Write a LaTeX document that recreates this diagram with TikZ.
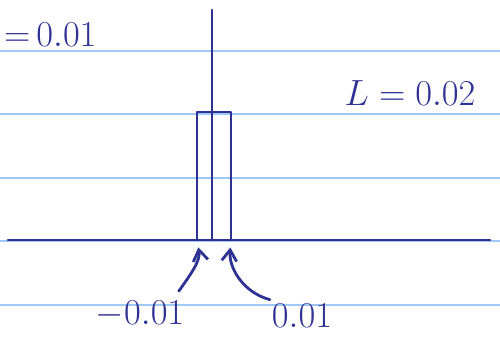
\documentclass[tikz,border=0pt]{standalone}
\usepackage{amsmath,amssymb}
\usepackage{xcolor}
\usepackage{tikz}
\usetikzlibrary{arrows.meta}
\usetikzlibrary{positioning,calc}
\definecolor{ink}{RGB}{46,50,146}
\definecolor{ruled}{RGB}{158,200,246}
\tikzset{
	>={Straight Barb[length=2.2mm, width=3mm]},
	ruling/.style = {draw=ruled, line width=1.1pt},
	pen/.style = {draw=ink, line width=1.6pt, line cap=round, line join=round},
	inkText/.style = {text=ink, inner sep=1pt, font=\huge},
}

\begin{document}
\begin{tikzpicture}
						\useasboundingbox (0,0) rectangle (10,7);

						% ruled paper
						\foreach \y in {5.98,4.72,3.44,2.18,0.90} {
							\draw[ruling] (0,\y) -- (10,\y);
						}

						% axes
						\coordinate (xleft) at (0.16,2.2);
						\coordinate (xright) at (9.8,2.2);
						\coordinate (ybottom) at (4.24,2.2);
						\coordinate (ytop) at (4.24,6.8);
						\draw[pen] (xleft) -- (xright);
						\draw[pen] (ybottom) -- (ytop);

						% the box
						\coordinate (boxlo) at (3.94,2.2);
						\coordinate (boxhi) at (4.62,4.76);
						\draw[pen] (boxlo) rectangle (boxhi);
						\coordinate (boxright) at (4.62,2.2);

						% labels
						\node[inkText, anchor=west] at (0.04,6.3) (step) {$\mathord{=}\,0.01$};
						\node[inkText] at (8.2,5.14) (width) {$L=0.02$};
						\node[inkText] at (2.8,0.72) (negend) {$-0.01$};
						\node[inkText] at (6.04,0.68) (posend) {$0.01$};

						\draw[pen, ->, shorten >=1.5mm] ($(negend.north east)+(-0.15,0.15)$) to[out=55, in=-80] (boxlo);
						\draw[pen, ->, shorten >=1.5mm] ($(posend.north west)+(0,0.05)$) to[out=165, in=-95] (boxright);
					\end{tikzpicture}
\end{document}
